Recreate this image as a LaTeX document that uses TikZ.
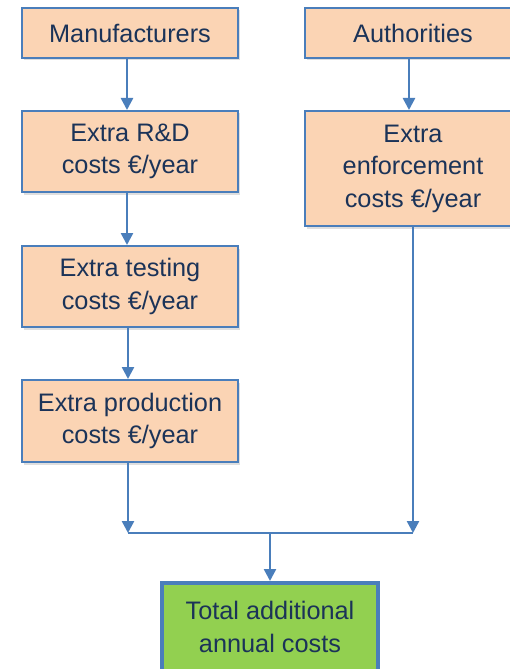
\documentclass[tikz,border=0pt]{standalone}
\usepackage{fontspec}
\setmainfont{Liberation Sans}
\usetikzlibrary{arrows.meta,shadows}
\definecolor{boxfill}{HTML}{FBD4B4}
\definecolor{boxline}{HTML}{4A7EBB}
\definecolor{txt}{HTML}{1B3358}
\definecolor{greenfill}{HTML}{92D050}
\begin{document}
\begin{tikzpicture}[x=1bp,y=-1bp,
  costbox/.style={draw=boxline, line width=2bp, fill=boxfill, text=txt,
    minimum width=216bp, align=center, inner sep=0pt,
    font=\fontsize{25.3bp}{32.5bp}\selectfont,
    drop shadow={shadow xshift=2bp, shadow yshift=-2.5bp, opacity=0.25}},
  totalbox/.style={costbox, fill=greenfill, line width=4bp},
  conn/.style={draw=boxline, line width=2.5bp},
  arr/.style={conn, -{Triangle[width=12bp,length=12bp]}}]
\useasboundingbox (0,0) rectangle (510,669);
\clip (0,0) rectangle (510,669);
\fill[white] (0,0) rectangle (510,669);
\node[costbox, minimum height=50bp] (man) at (130,33) {Manufacturers};
\node[costbox, minimum height=81bp] (rd) at (130,151.5) {Extra R\&D\\costs €/year};
\node[costbox, minimum height=81bp] (test) at (130,286.5) {Extra testing\\costs €/year};
\node[costbox, minimum height=82bp] (prod) at (130,421) {Extra production\\costs €/year};
\node[costbox, minimum height=50bp] (auth) at (413,33) {Authorities};
\node[costbox, minimum height=115bp] (enf) at (413,168.5) {Extra\\enforcement\\costs €/year};
\node[totalbox, minimum height=88bp] (total) at (270,627) {Total additional\\annual costs};
\coordinate (j) at (270,533);
\draw[arr] ([xshift=-3bp]man.south) -- ([xshift=-3bp]rd.north);
\draw[arr] ([xshift=-3bp]rd.south) -- ([xshift=-3bp]test.north);
\draw[arr] ([xshift=-2bp]test.south) -- ([xshift=-2bp]prod.north);
\draw[arr] ([xshift=-4bp]auth.south) -- ([xshift=-4bp]enf.north);
\draw[arr] ([xshift=-2bp]prod.south) -- ([xshift=-2bp]prod.south |- j);
\draw[arr] (enf.south) -- (enf.south |- j);
\draw[conn] ([xshift=-2bp]prod.south |- j) -- (enf.south |- j);
\draw[arr] (j) -- (total.north);
\end{tikzpicture}
\end{document}
